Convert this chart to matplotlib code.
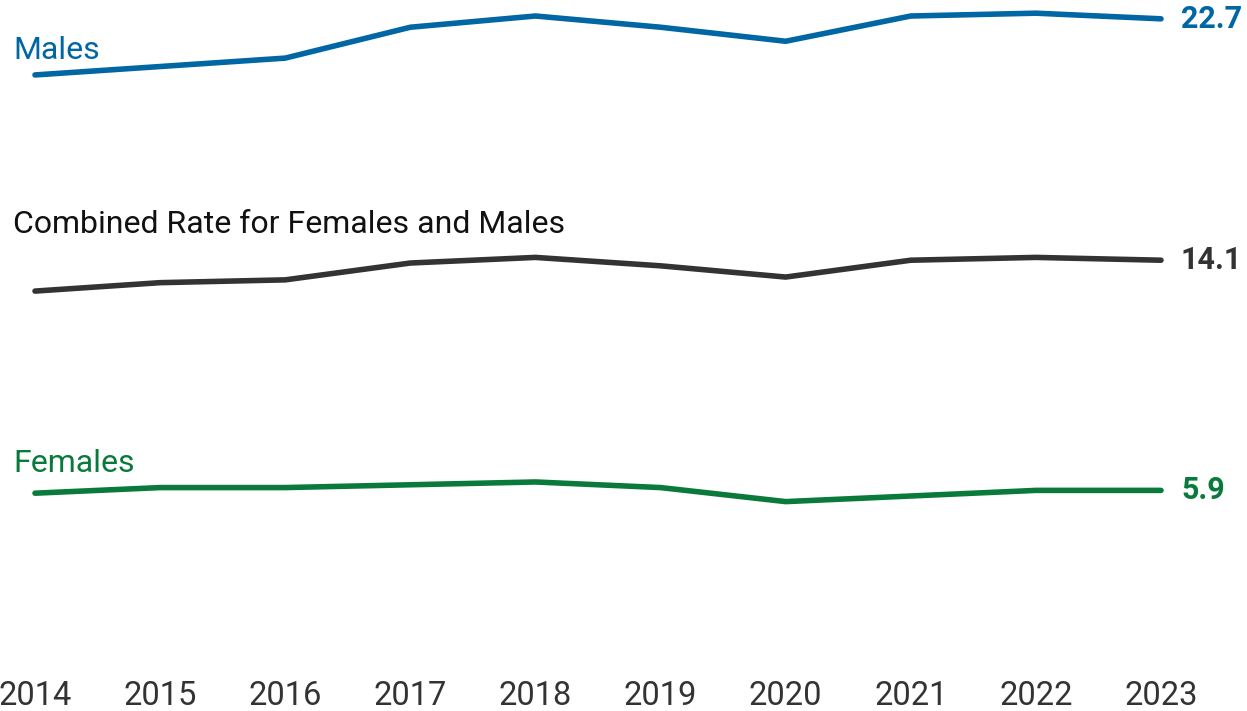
import matplotlib.pyplot as plt

plt.rcParams['font.family'] = ['Roboto', 'DejaVu Sans']

# suicide rates per 100,000
years = [2014, 2015, 2016, 2017, 2018, 2019, 2020, 2021, 2022, 2023]
males = [20.7, 21.0, 21.3, 22.4, 22.8, 22.4, 21.9, 22.8, 22.9, 22.7]
combined = [13.0, 13.3, 13.4, 14.0, 14.2, 13.9, 13.5, 14.1, 14.2, 14.1]
females = [5.8, 6.0, 6.0, 6.1, 6.2, 6.0, 5.5, 5.7, 5.9, 5.9]

blue = '#0066a4'
gray = '#333333'
green = '#0a7a3c'

W, H = 1247, 711
fig = plt.figure(figsize=(W / 100, H / 100), dpi=100)
ax = fig.add_axes([35 / W, (H - 656) / H, (1161 - 35) / W, 656 / H])
ax.set_xlim(2014, 2023)
ax.set_ylim(0, 23.37)

series = [(males, blue, blue, 'Males', 21.27),
          (combined, gray, '#111111', 'Combined Rate for Females and Males', 15.06),
          (females, green, green, 'Females', 6.57)]

for vals, col, tcol, name, ly in series:
    ax.plot(years, vals, color=col, lw=4.0, solid_capstyle='round',
            solid_joinstyle='round', clip_on=False)
    ax.text(2013.825, ly, name, color=tcol, fontsize=23, va='baseline',
            ha='left')
    ax.annotate(f'{vals[-1]:.1f}', xy=(years[-1], vals[-1]), xytext=(20, 0),
                textcoords='offset pixels', color=col, fontsize=22,
                fontweight='bold', va='center', ha='left')

for s in ax.spines.values():
    s.set_visible(False)
ax.set_yticks([])
ax.set_xticks(years)
ax.tick_params(axis='x', length=0, pad=17, labelsize=23.5, labelcolor=gray)

fig.savefig('out.png', dpi=100)
